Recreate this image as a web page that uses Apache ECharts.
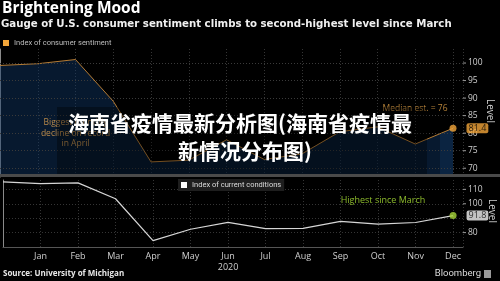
<!DOCTYPE html>
<html><head><meta charset="utf-8">
<script src="https://cdn.jsdelivr.net/npm/echarts@6/dist/echarts.min.js"></script>
<style>html,body{margin:0;padding:0;background:#000;}#c{width:500px;height:281px;}</style>
</head><body><div id="c"></div>
<script>
// ---- data ----
const monthLabels = ['', 'Jan', 'Feb', 'Mar', 'Apr', 'May', 'Jun', 'Jul', 'Aug', 'Sep', 'Oct', 'Nov', 'Dec'];
const yearLabel = '2020';
const sentiment = [99.3, 99.8, 101.0, 89.1, 71.8, 72.3, 78.1, 72.5, 74.1, 80.4, 81.8, 76.9, 81.4];
const currentConditions = [115.2, 114.0, 114.5, 103.5, 74.4, 82.3, 87.1, 82.8, 82.9, 87.8, 85.9, 87.0, 91.8];
const topTickLabels = [70, 75, 80, 85, 90, 95, 100];
const bottomTickLabels = [80, 100, 110];

const F = 'Open Sans';
const xMax = 12 * 463 / 453;
const pairs = arr => arr.map((v, i) => [i, v]);
const last = arr => [[arr.length - 1, arr[arr.length - 1]]];

const tickRich = {
  t: { width: 3, height: 1, backgroundColor: '#9a9a9a' },
  n: { color: '#cfcfcf', fontSize: 8.5, fontFamily: F, padding: [0, 0, 0, 2] }
};

const chart = echarts.init(document.getElementById('c'), null, { renderer: 'canvas' });
chart.setOption({
  backgroundColor: '#000',
  animation: false,
  grid: [
    { left: 0, top: 49, width: 463, height: 128 },
    { left: 0, top: 180, width: 463, height: 67 },
    { left: 440.7, top: 49, width: 12.3, height: 128 }
  ],
  legend: [
    {
      left: 1, top: 37, padding: [2, 2], icon: 'rect', itemWidth: 6, itemHeight: 6, itemGap: 4,
      textStyle: { color: '#bdbdbd', fontSize: 7.5, fontFamily: 'Roboto' },
      data: [{ name: 'Index of consumer sentiment', itemStyle: { color: '#f2a53a' } }]
    },
    {
      left: 178, top: 179, padding: [2, 3, 2, 3], icon: 'rect', itemWidth: 6, itemHeight: 6,
      backgroundColor: '#1e1e1e',
      textStyle: { color: '#dcdcdc', fontSize: 7.5, fontFamily: 'Roboto' },
      data: [{ name: 'Index of current conditions', itemStyle: { color: '#ffffff' } }]
    }
  ],
  xAxis: [
    { type: 'value', gridIndex: 0, min: 0, max: xMax, interval: 1,
      axisLine: { show: false }, axisTick: { show: false }, axisLabel: { show: false },
      splitLine: { show: true, lineStyle: { color: '#353535', type: [1, 2], width: 1 } } },
    { type: 'value', gridIndex: 1, min: 0, max: xMax, interval: 1,
      axisLine: { show: true, lineStyle: { color: '#555', width: 1 } }, axisTick: { show: false },
      axisLabel: { show: true, color: '#cfcfcf', fontSize: 9, fontFamily: F, margin: 4, lineHeight: 11,
        formatter: v => Number.isInteger(v) && monthLabels[v] ? (monthLabels[v] === 'Jun' ? monthLabels[v] + '\n' + yearLabel : monthLabels[v]) : '' },
      splitLine: { show: true, lineStyle: { color: '#353535', type: [1, 2], width: 1 } } },
    { type: 'value', gridIndex: 2, min: 11.674, max: 12, show: false }
  ],
  yAxis: [
    { type: 'value', gridIndex: 0, position: 'right', min: 67.5, max: 104, interval: 2.5,
      axisLine: { show: true, lineStyle: { color: '#8a8a8a', width: 1 } }, axisTick: { show: false },
      splitLine: { show: false },
      axisLabel: { margin: 0, rich: tickRich,
        formatter: v => topTickLabels.includes(v) ? '{t|}{n|' + v + '}' : '' } },
    { type: 'value', gridIndex: 1, position: 'right', min: 70, max: 116.5, interval: 10,
      axisLine: { show: true, lineStyle: { color: '#8a8a8a', width: 1 } }, axisTick: { show: false },
      splitLine: { show: true, showMaxLine: false, lineStyle: { color: '#353535', type: [1, 2], width: 1 } },
      axisLabel: { margin: 0, rich: tickRich,
        formatter: v => bottomTickLabels.includes(v) ? '{t|}{n|' + v + '}' : '' } },
    { type: 'value', gridIndex: 2, min: 67.5, max: 104, show: false }
  ],
  series: [
    { name: 'Index of consumer sentiment', type: 'line', xAxisIndex: 0, yAxisIndex: 0,
      data: pairs(sentiment), symbol: 'none', z: 2,
      lineStyle: { color: '#b57c35', width: 1 },
      itemStyle: { color: '#f2a53a' },
      areaStyle: { color: 'rgba(16,56,106,0.64)' },
      markLine: { silent: true, symbol: 'none', label: { show: false },
        lineStyle: { color: '#3a3a3a', type: [1, 2], width: 1 },
        data: topTickLabels.map(v => ({ yAxis: v })) } },
    { name: 'highlight', type: 'line', xAxisIndex: 2, yAxisIndex: 2,
      data: pairs(sentiment), symbol: 'none', z: 2,
      lineStyle: { width: 0 }, areaStyle: { color: 'rgba(40,95,170,0.22)' } },
    { name: 'sentEnd', type: 'scatter', xAxisIndex: 0, yAxisIndex: 0,
      data: last(sentiment), symbolSize: 7, z: 5,
      itemStyle: { color: '#f2a53a' },
      label: { show: true, position: 'right', distance: 10, formatter: p => p.value[1].toFixed(1),
        color: '#000', backgroundColor: '#f2a53a', borderRadius: 2, padding: [1, 2, 0, 2],
        fontSize: 9, fontFamily: F } },
    { name: 'Index of current conditions', type: 'line', xAxisIndex: 1, yAxisIndex: 1,
      data: pairs(currentConditions), symbol: 'none', z: 2,
      lineStyle: { color: '#d6d6d6', width: 1.2 }, itemStyle: { color: '#ffffff' } },
    { name: 'condEnd', type: 'scatter', xAxisIndex: 1, yAxisIndex: 1,
      data: last(currentConditions), symbolSize: 7, z: 5,
      itemStyle: { color: '#a8d63a' },
      label: { show: true, position: 'right', distance: 10, formatter: p => p.value[1].toFixed(1),
        color: '#000', backgroundColor: '#f4f4f4', borderRadius: 2, padding: [1, 2, 0, 2],
        fontSize: 9, fontFamily: F } }
  ],
  graphic: [
    { type: 'text', left: 2, top: 1, z: 100, style: { text: 'Brightening Mood', fill: '#fff', font: 'bold 15.5px "Open Sans"' } },
    { type: 'text', left: 1, top: 19, z: 100, style: { text: 'Gauge of U.S. consumer sentiment climbs to second-highest level since March', fill: '#f0f0f0', font: 'bold 10.2px "DejaVu Sans"' } },
    { type: 'rect', z: 100, shape: { x: 0, y: 174, width: 500, height: 3 }, style: { fill: '#4a4a4a' } },
    { type: 'text', z: 100, x: 490, y: 111, rotation: -Math.PI / 2,
      style: { text: 'Level', fill: '#cfcfcf', font: '10px "Open Sans"', align: 'center', verticalAlign: 'middle' } },
    { type: 'text', z: 100, x: 492, y: 211, rotation: -Math.PI / 2,
      style: { text: 'Level', fill: '#cfcfcf', font: '10px "Open Sans"', align: 'center', verticalAlign: 'middle' } },
    { type: 'text', z: 100, x: 447.5, y: 108.5,
      style: { text: 'Median est. = 76', fill: '#b8843a', font: '8.5px "Open Sans"', align: 'right', verticalAlign: 'middle' } },
    { type: 'text', z: 100, x: 75.5, y: 133.5,
      style: { text: 'Biggest monthly\ndecline on record\nin April', fill: '#b8894a', font: '8.5px "Open Sans"', align: 'center', verticalAlign: 'middle', lineHeight: 10.5 } },
    { type: 'text', z: 100, x: 383, y: 200.7,
      style: { text: 'Highest since March', fill: '#8dbb2c', font: '9px "Open Sans"', align: 'center', verticalAlign: 'middle' } },
    { type: 'text', z: 100, left: 3, top: 269.5, style: { text: 'Source: University of Michigan', fill: '#e8e8e8', font: 'bold 8px "Open Sans"' } },
    { type: 'text', z: 100, x: 481, y: 274, style: { text: 'Bloomberg', fill: '#dcdcdc', font: '9.5px Roboto', align: 'right', verticalAlign: 'middle' } },
    { type: 'rect', z: 100, shape: { x: 484, y: 270, width: 7, height: 8 }, style: { fill: '#9a9a9a' } },
    { type: 'rect', z: 101, shape: { x: 57, y: 107, width: 370, height: 67 }, style: { fill: 'rgba(0,0,0,0.35)' } },
    { type: 'text', z: 102, x: 68, y: 123,
      style: { text: '海南省疫情最新分析图(海南省疫情最', fill: '#fff', font: 'bold 21px "Noto Sans CJK SC"', align: 'left', verticalAlign: 'middle' } },
    { type: 'text', z: 102, x: 178, y: 151,
      style: { text: '新情况分布图)', fill: '#fff', font: 'bold 21px "Noto Sans CJK SC"', align: 'left', verticalAlign: 'middle' } }
  ]
});
</script></body></html>
